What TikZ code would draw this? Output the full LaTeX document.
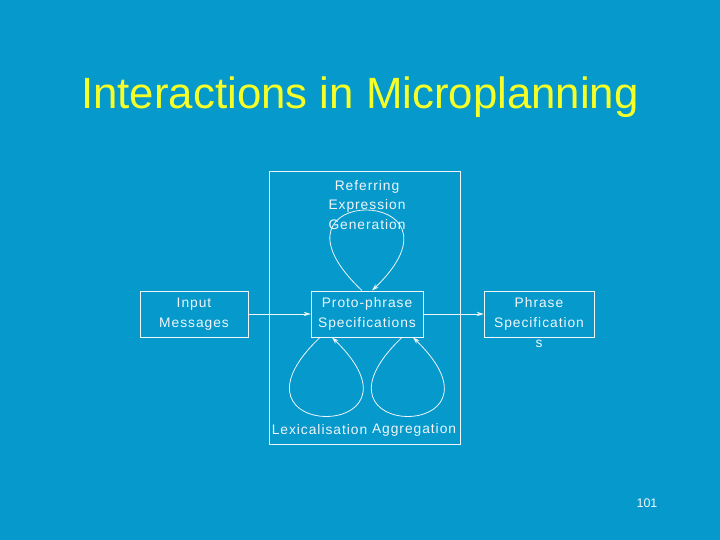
\documentclass[tikz,border=0pt]{standalone}
\usepackage{fontspec}
\setmainfont{Liberation Sans}
\newfontfamily\slidefont[LetterSpace=7]{Liberation Sans}
\usetikzlibrary{positioning, arrows.meta, calc}

\definecolor{slideblue}{RGB}{5,153,204}
\definecolor{titleyellow}{RGB}{245,255,40}
\definecolor{inkwhite}{RGB}{240,246,250}

\begin{document}
\begin{tikzpicture}[
    x=1pt, y=1pt,
    >={Stealth[length=7pt, width=4.5pt]},
    line width=0.8pt,
    draw=inkwhite,
    box/.style={
        rectangle,
        draw=inkwhite,
        line width=0.8pt,
        minimum height=46pt,
        inner sep=2pt,
        align=center,
        text=inkwhite,
        font=\slidefont\fontsize{13.8}{19.5}\selectfont
    },
    note/.style={
        align=center,
        inner sep=0pt,
        text=inkwhite,
        font=\slidefont\fontsize{13.8}{19.5}\selectfont
    },
    arrow/.style={
        ->,
        draw=inkwhite,
        line width=0.8pt
    }
]

    % slide background
    \fill[slideblue] (0,0) rectangle (720,540);

    \node[text=titleyellow, font=\fontsize{43.8}{50}\selectfont] (title) at (360,443) {Interactions in Microplanning};

    % microplanning region
    \node[draw=inkwhite, line width=0.8pt, minimum width=191pt, minimum height=273pt] (reg) at (364.5,232.5) {};

    % --- Boxes ---
    \node[box, minimum width=112pt] (proto) at (367,226) {Proto-phrase\\Specifications};
    \node[box, minimum width=108pt] (input) at (194,226) {Input\\Messages};
    \node[box, minimum width=110pt, label={[note, yshift=-2pt]below:s}] (phrase) at (539,226) {Phrase\\Specification};

    \draw[arrow] (input.east) -- (proto.west);
    \draw[arrow] (proto.east) -- (phrase.west);

    % --- Referring expression generation ---
    \node[note] (reg_text) at (367,335) {Referring\\Expression\\Generation};
    \draw[arrow] ($(proto.north)+(-5,0)$) .. controls +(-114,108) and +(110,106) .. ($(proto.north)+(5,0)$);

    % --- Lexicalisation and aggregation ---
    \node[note] (lex) at (319.5,110) {Lexicalisation};
    \node[note, right=4pt of lex] (agg) {Aggregation};
    \draw[arrow] ($(proto.south)+(-47,0)$) .. controls +(-110,-105) and +(108,-105) .. ($(proto.south)+(-35,0)$);
    \draw[arrow] ($(proto.south)+(35,0)$) .. controls +(-110,-105) and +(108,-105) .. ($(proto.south)+(46,0)$);

    \node[text=inkwhite, font=\fontsize{12.5}{15}\selectfont] (page) at (647,37) {101};

\end{tikzpicture}
\end{document}
